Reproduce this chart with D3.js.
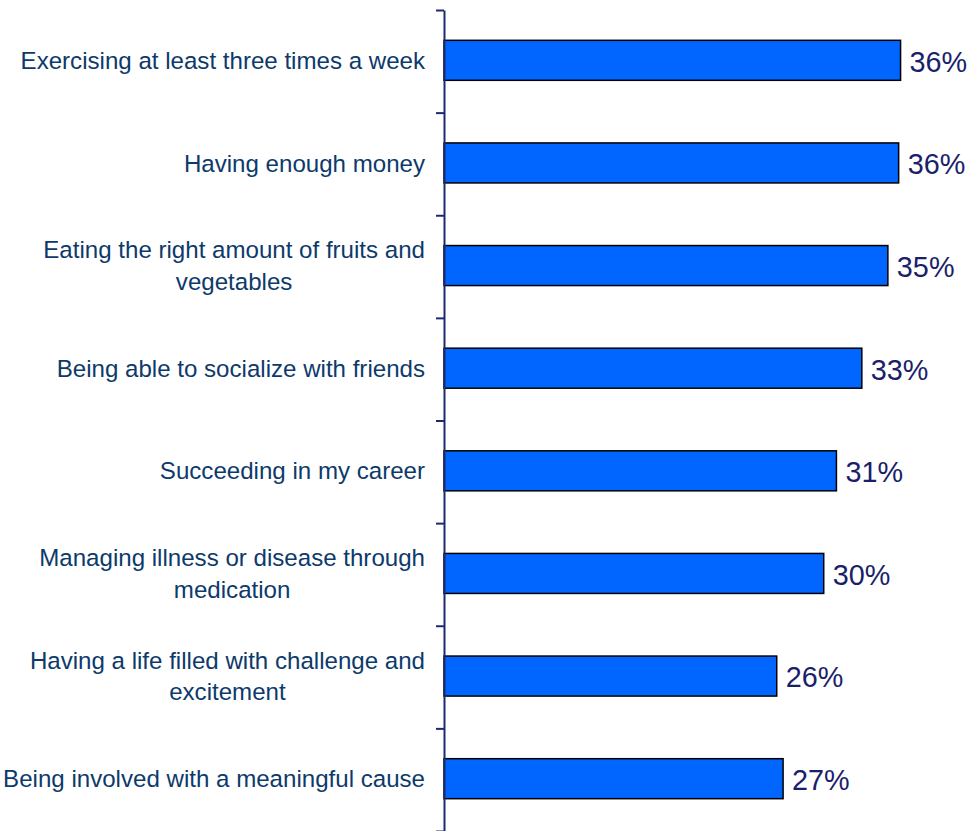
<!DOCTYPE html>
<html>
<head>
<meta charset="utf-8">
<style>
    body { margin: 0; background: #fff; }
    text { font-family: "Liberation Sans", Arial, sans-serif; }
</style>
<script src="https://d3js.org/d3.v7.min.js"></script>
</head>
<body>
<script>
    // categories top to bottom, "\n" marks a line break in the label
    var categories = [
        "Exercising at least three times a week",
        "Having enough money",
        "Eating the right amount of fruits and\nvegetables",
        "Being able to socialize with friends",
        "Succeeding in my career",
        "Managing illness or disease through\nmedication",
        "Having a life filled with challenge and\nexcitement",
        "Being involved with a meaningful cause"
    ];
    var values = [35.95, 35.8, 34.95, 32.9, 30.9, 29.9, 26.2, 26.7];
    var valueLabels = ["36%", "36%", "35%", "33%", "31%", "30%", "26%", "27%"];

    const width = 972, height = 831;
    const axisX = 444, plotTop = 10, plotBottom = 831;

    const svg = d3.select("body").append("svg")
        .attr("width", width)
        .attr("height", height);

    var y = d3.scaleBand().domain(categories).range([plotTop, plotBottom]).padding(0);
    var x = d3.scaleLinear().domain([0, 40]).range([axisX, axisX + 508]);
    var barH = 40;

    // bars
    svg.selectAll("rect.bar")
        .data(values)
        .enter().append("rect")
        .attr("class", "bar")
        .attr("x", x(0))
        .attr("y", (d, i) => y(categories[i]) + y.bandwidth() / 2 - barH / 2 - 1)
        .attr("width", d => x(d) - x(0))
        .attr("height", barH)
        .attr("fill", "#0066FF")
        .attr("stroke", "#000")
        .attr("stroke-width", 1.5);

    // value labels
    svg.selectAll("text.val")
        .data(values)
        .enter().append("text")
        .attr("class", "val")
        .attr("x", d => x(d) + 9)
        .attr("y", (d, i) => y(categories[i]) + y.bandwidth() / 2)
        .attr("dy", "0.36em")
        .attr("font-size", 28.8)
        .attr("fill", "#1B1F6B")
        .text((d, i) => valueLabels[i]);

    // axis: ticks at band boundaries
    var yIdx = d3.scaleLinear().domain([0, categories.length]).range([plotTop, plotBottom]);
    var axis = svg.append("g")
        .attr("transform", "translate(" + axisX + ",0)")
        .call(d3.axisLeft(yIdx).tickValues(d3.range(categories.length + 1))
            .tickSize(8).tickSizeOuter(0).tickFormat(""));
    axis.selectAll("path, line").attr("stroke", "#1F2A6E").attr("stroke-width", 2);

    // category labels, lines centred on each other, block right-aligned
    var labelRight = 425, lineH = 31.5;
    categories.forEach(function (c, i) {
        var lines = c.split("\n");
        var g = svg.append("text")
            .attr("font-size", 24.1)
            .attr("fill", "#0D3A6B")
            .attr("text-anchor", "middle");
        var cy = y(c) + y.bandwidth() / 2 - 1;
        var tspans = lines.map(function (l, j) {
            return g.append("tspan")
                .attr("y", cy + (j - (lines.length - 1) / 2) * lineH)
                .attr("dy", "0.36em")
                .text(l);
        });
        var maxW = d3.max(tspans, t => t.node().getComputedTextLength());
        tspans.forEach(t => t.attr("x", labelRight - maxW / 2));
    });
</script>
</body>
</html>
